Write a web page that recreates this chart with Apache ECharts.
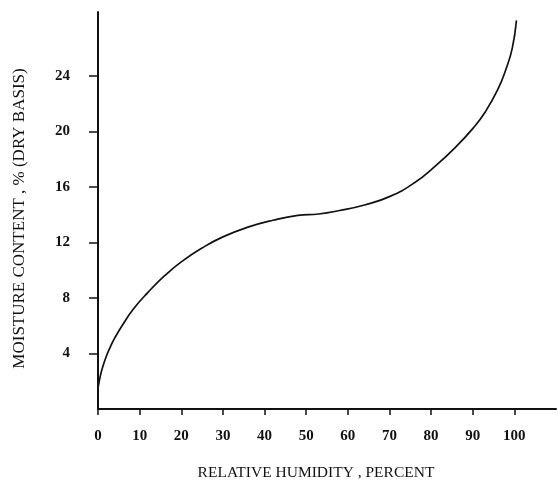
<!DOCTYPE html>
<html>
<head>
<meta charset="utf-8">
<script src="https://cdn.jsdelivr.net/npm/echarts@6/dist/echarts.min.js"></script>
<style>
html,body{margin:0;padding:0;background:#fff;}
#chart{width:558px;height:486px;}
</style>
</head>
<body>
<div id="chart"></div>
<script>
// Relative humidity (%) and moisture content (% dry basis)
const humidity = [0, 0.5, 1, 2, 3, 4, 6, 8.5, 12, 16, 20, 25, 30, 36, 42, 48, 53, 58, 64, 70, 76, 81, 86, 90, 93, 96, 98, 99.5, 100.5];
const moisture = [1.5, 2.3, 2.9, 3.8, 4.5, 5.1, 6.1, 7.2, 8.4, 9.6, 10.6, 11.6, 12.4, 13.1, 13.6, 13.95, 14.05, 14.3, 14.7, 15.3, 16.3, 17.5, 18.9, 20.2, 21.4, 23.0, 24.5, 26.0, 28.0];
const xTicks = [0, 10, 20, 30, 40, 50, 60, 70, 80, 90, 100];
const yTicks = [4, 8, 12, 16, 20, 24];
const xTitle = 'RELATIVE HUMIDITY , PERCENT';
const yTitle = 'MOISTURE CONTENT , % (DRY BASIS)';

const points = humidity.map((h, i) => [h, moisture[i]]);
const chart = echarts.init(document.getElementById('chart'), null, {renderer: 'canvas'});
const labelFont = {fontFamily: 'Liberation Serif', fontWeight: 'bold', fontSize: 15, color: '#111'};
chart.setOption({
  animation: false,
  backgroundColor: '#fff',
  grid: {left: 98, right: 2, top: 12, bottom: 72, containLabel: false},
  xAxis: {
    type: 'value', min: 0, max: 110,
    name: xTitle, nameLocation: 'middle', nameGap: 56,
    nameTextStyle: {fontFamily: 'Liberation Serif', fontSize: 15.5, color: '#111', padding: [0, 22, 0, 0]},
    axisLine: {show: true, lineStyle: {color: '#111', width: 2}},
    axisTick: {show: true, length: 6, inside: false, customValues: xTicks, lineStyle: {color: '#111', width: 1.5}},
    axisLabel: Object.assign({margin: 20, customValues: xTicks}, labelFont),
    splitLine: {show: false}
  },
  yAxis: {
    type: 'value', min: 0, max: 28.6,
    name: yTitle, nameLocation: 'middle', nameGap: 70, nameRotate: 90,
    nameTextStyle: {fontFamily: 'Liberation Serif', fontSize: 17, color: '#111', padding: [0, 16, 0, 0]},
    axisLine: {show: true, lineStyle: {color: '#111', width: 2}},
    axisTick: {show: true, length: 9, inside: false, customValues: yTicks, lineStyle: {color: '#111', width: 1.5}},
    axisLabel: Object.assign({margin: 28, customValues: yTicks}, labelFont),
    splitLine: {show: false}
  },
  series: [{
    type: 'line',
    data: points,
    smooth: 0.5,
    showSymbol: false,
    lineStyle: {color: '#111', width: 1.7}
  }]
});
</script>
</body>
</html>
